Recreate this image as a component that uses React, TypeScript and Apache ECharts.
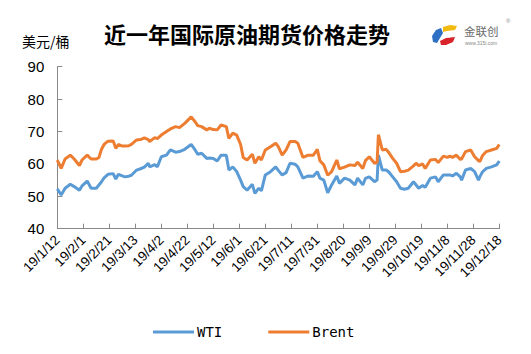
import React, { useEffect, useRef } from "react";
import * as echarts from "echarts";

const dates: string[] = [
  "2019-01-12", "2019-01-15", "2019-01-18", "2019-01-22", "2019-01-25", "2019-01-29", "2019-01-31",
  "2019-02-04", "2019-02-07", "2019-02-11", "2019-02-13", "2019-02-15", "2019-02-17", "2019-02-20",
  "2019-02-24", "2019-02-26", "2019-02-28", "2019-03-03", "2019-03-05", "2019-03-08", "2019-03-10",
  "2019-03-14", "2019-03-17", "2019-03-20", "2019-03-23", "2019-03-24", "2019-03-28", "2019-03-30",
  "2019-04-02", "2019-04-06", "2019-04-09", "2019-04-13", "2019-04-16", "2019-04-20", "2019-04-25",
  "2019-04-28", "2019-04-30", "2019-05-03", "2019-05-07", "2019-05-09", "2019-05-12", "2019-05-15",
  "2019-05-18", "2019-05-22", "2019-05-24", "2019-05-27", "2019-05-30", "2019-06-02", "2019-06-04",
  "2019-06-07", "2019-06-11", "2019-06-13", "2019-06-16", "2019-06-18", "2019-06-21", "2019-06-25",
  "2019-06-29", "2019-07-01", "2019-07-04", "2019-07-07", "2019-07-10", "2019-07-14", "2019-07-16",
  "2019-07-20", "2019-07-24", "2019-07-28", "2019-07-31", "2019-08-02", "2019-08-05", "2019-08-08",
  "2019-08-11", "2019-08-15", "2019-08-17", "2019-08-21", "2019-08-25", "2019-08-29", "2019-08-31",
  "2019-09-04", "2019-09-06", "2019-09-09", "2019-09-13", "2019-09-15", "2019-09-16", "2019-09-19",
  "2019-09-22", "2019-09-24", "2019-09-27", "2019-09-30", "2019-10-03", "2019-10-06", "2019-10-09",
  "2019-10-13", "2019-10-15", "2019-10-17", "2019-10-20", "2019-10-22", "2019-10-26", "2019-10-30",
  "2019-11-01", "2019-11-05", "2019-11-08", "2019-11-10", "2019-11-12", "2019-11-15", "2019-11-18",
  "2019-11-19", "2019-11-22", "2019-11-26", "2019-11-29", "2019-12-02", "2019-12-03", "2019-12-05",
  "2019-12-08", "2019-12-12", "2019-12-16", "2019-12-18",
];

const brent: number[] = [
  61.2, 58.6, 61.5, 62.7, 61.5, 59.5, 61.2,
  62.7, 61.5, 61.5, 62.0, 64.5, 66.0, 67.0,
  67.1, 64.8, 66.0, 65.5, 65.5, 65.6, 66.0,
  67.4, 67.5, 68.0, 67.5, 66.9, 68.1, 67.8,
  68.9, 70.0, 70.8, 71.5, 71.2, 72.5, 74.5,
  73.0, 71.8, 71.5, 70.5, 71.0, 70.6, 70.5,
  72.0, 71.5, 67.9, 69.5, 68.9, 66.0, 62.0,
  61.2, 63.0, 60.2, 62.2, 61.2, 64.3, 65.3,
  66.4, 65.3, 62.7, 64.3, 66.9, 66.9, 66.4,
  62.0, 62.7, 62.7, 64.5, 61.0, 59.7, 56.5,
  57.6, 61.2, 58.5, 59.0, 59.7, 59.5, 60.5,
  58.6, 61.0, 62.2, 60.2, 60.5, 69.0, 64.3,
  64.5, 63.5, 61.7, 60.2, 57.6, 57.7, 58.1,
  59.4, 60.2, 59.5, 60.0, 58.6, 61.2, 61.4,
  60.4, 62.4, 62.0, 62.4, 62.0, 62.7, 61.4,
  61.5, 63.8, 64.3, 62.2, 61.0, 60.7, 62.5,
  63.8, 64.3, 64.8, 66.0,
];

const wti: number[] = [
  52.3, 50.4, 52.5, 53.7, 53.0, 51.9, 53.2,
  54.7, 52.5, 52.5, 53.5, 54.5, 55.7, 56.8,
  57.0, 55.3, 56.8, 56.3, 56.0, 56.2, 56.5,
  58.1, 58.5, 59.0, 60.2, 59.1, 59.8, 59.1,
  62.2, 62.7, 64.3, 63.6, 63.8, 64.5, 66.0,
  64.3, 63.0, 63.3, 61.7, 61.8, 61.7, 60.9,
  62.7, 62.7, 58.1, 59.1, 57.6, 55.0, 53.0,
  51.9, 53.7, 50.9, 52.5, 51.7, 56.6, 57.6,
  59.1, 58.0, 56.6, 57.3, 60.2, 59.9, 59.1,
  55.6, 56.3, 56.2, 57.6, 55.6, 55.0, 51.1,
  53.5, 56.3, 54.0, 55.6, 55.0, 53.5, 55.6,
  53.5, 55.5, 56.0, 54.5, 55.0, 62.7, 58.1,
  58.1, 57.5, 56.0, 54.5, 52.5, 52.2, 52.5,
  54.5, 53.5, 52.5, 53.3, 52.8, 55.6, 56.0,
  54.5, 56.6, 56.6, 56.6, 56.3, 57.1, 56.0,
  55.0, 58.1, 58.6, 57.6, 55.0, 56.0, 57.5,
  58.6, 59.1, 59.7, 60.9,
];

const seriesNames: string[] = ["WTI", "Brent"];
const yTicks: number[] = [40, 50, 60, 70, 80, 90];
const startDate = "2019-01-12";
const endDate = "2019-12-18";
const tickStepDays = 20;

const DAY = 86400000;
const toUtc = (s: string) => {
  const [y, m, d] = s.split("-").map(Number);
  return Date.UTC(y, m - 1, d);
};
const offset = (s: string) => Math.round((toUtc(s) - toUtc(startDate)) / DAY);
const fmt = (v: number) => {
  const dt = new Date(toUtc(startDate) + v * DAY);
  return `${String(dt.getUTCFullYear()).slice(2)}/${dt.getUTCMonth() + 1}/${dt.getUTCDate()}`;
};

export default function App() {
  const ref = useRef<HTMLDivElement>(null);
  useEffect(() => {
    if (!ref.current) return;
    const chart = echarts.init(ref.current, undefined, { renderer: "svg" });
    const axisColor = "#898989";
    chart.setOption({
      animation: false,
      backgroundColor: "#ffffff",
      grid: { left: 57.3, right: 31.7, top: 66.7, bottom: 125.3, containLabel: false },
      legend: {
        data: seriesNames,
        left: 148,
        top: 320,
        icon: "rect",
        itemWidth: 41,
        itemHeight: 3,
        itemGap: 46,
        textStyle: { fontFamily: "DejaVu Sans Mono", fontSize: 14, color: "#000", padding: [3, 0, 0, -2] },
      },
      xAxis: {
        type: "value",
        min: 0,
        max: offset(endDate),
        interval: tickStepDays,
        splitLine: { show: false },
        axisLine: { show: true, lineStyle: { color: axisColor, width: 1 } },
        axisTick: { show: true, inside: true, length: 5, lineStyle: { color: axisColor } },
        axisLabel: {
          rotate: 45,
          margin: 9,
          fontSize: 13.5,
          color: "#000",
          fontFamily: "Liberation Sans",
          formatter: (v: number) => fmt(v),
        },
      },
      yAxis: {
        type: "value",
        min: yTicks[0],
        max: yTicks[yTicks.length - 1],
        interval: 10,
        splitLine: { show: false },
        axisLine: { show: true, lineStyle: { color: axisColor, width: 1 } },
        axisTick: { show: true, inside: true, length: 5, lineStyle: { color: axisColor } },
        axisLabel: { fontSize: 15, color: "#000", margin: 13, fontFamily: "Liberation Sans" },
      },
      series: [
        {
          name: seriesNames[0],
          type: "line",
          data: dates.map((d, i) => [offset(d), wti[i]]),
          showSymbol: false,
          symbol: "none",
          itemStyle: { color: "#5B9BD5" },
          lineStyle: { color: "#5B9BD5", width: 3 },
        },
        {
          name: seriesNames[1],
          type: "line",
          data: dates.map((d, i) => [offset(d), brent[i]]),
          showSymbol: false,
          symbol: "none",
          itemStyle: { color: "#ED7D31" },
          lineStyle: { color: "#ED7D31", width: 3 },
        },
      ],
      graphic: [
        {
          type: "text",
          x: 247,
          y: 33,
          style: {
            text: "近一年国际原油期货价格走势",
            fontSize: 22,
            fontWeight: "bold",
            fontFamily: "Noto Sans CJK SC",
            fill: "#000",
            textAlign: "center",
            textVerticalAlign: "middle",
          },
        },
        {
          type: "text",
          x: 22,
          y: 41,
          style: {
            text: "美元/桶",
            fontSize: 14,
            fontFamily: "Noto Sans CJK SC",
            fill: "#000",
            textAlign: "left",
            textVerticalAlign: "middle",
          },
        },
        {
          type: "group",
          children: [
            { type: "polygon", shape: { points: [[441, 28], [436, 30], [432, 36], [433, 42], [437, 43], [440, 38], [443, 33]] }, style: { fill: "#2f6fc4" } },
            { type: "polygon", shape: { points: [[443, 27], [450, 25], [457, 26], [455, 30], [447, 31], [443, 32]] }, style: { fill: "#f2b90f" } },
            { type: "polygon", shape: { points: [[440, 41], [446, 38], [455, 37], [453, 42], [446, 45], [441, 45]] }, style: { fill: "#d8232a" } },
            { type: "circle", shape: { cx: 449, cy: 34.5, r: 3 }, style: { fill: "#ffffff" } },
            {
              type: "text",
              x: 464,
              y: 31,
              style: { text: "金联创", fontSize: 11.5, fontFamily: "Noto Sans CJK SC", fill: "#6b6b6b", textVerticalAlign: "middle" },
            },
            {
              type: "text",
              x: 465,
              y: 42.5,
              style: { text: "www.315i.com", fontSize: 5, fontFamily: "Liberation Sans", fill: "#888", textVerticalAlign: "middle" },
            },
            {
              type: "text",
              x: 506,
              y: 21,
              style: { text: "®", fontSize: 6, fontFamily: "Liberation Sans", fill: "#888", textVerticalAlign: "middle" },
            },
          ],
        },
      ],
    });
    return () => chart.dispose();
  }, []);
  return (
    <div
      ref={ref}
      style={{ position: "absolute", left: 0, top: 0, width: 531, height: 354 }}
    />
  );
}
